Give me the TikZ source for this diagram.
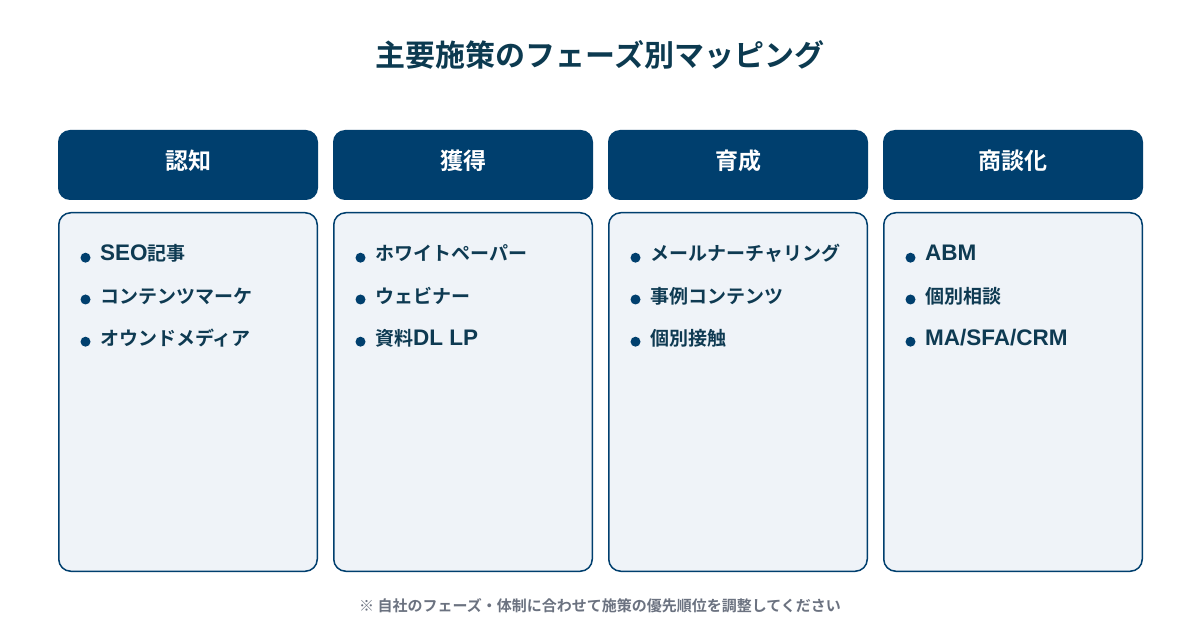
\documentclass[tikz,border=0pt]{standalone}
\usepackage{fontspec}
\setmainfont{Noto Sans CJK JP}[BoldFont={* Bold}]
\newfontfamily\jpb{Noto Sans CJK JP Bold}
\newfontfamily\latb{Liberation Sans Bold}
\newcommand{\lat}[1]{{\latb\fontsize{22.5}{26}\selectfont #1}}
\definecolor{navy}{HTML}{003F6E}
\definecolor{titlec}{HTML}{0C3A50}
\definecolor{bodyfill}{HTML}{EFF3F8}
\definecolor{itemc}{HTML}{0E3A52}
\definecolor{notec}{HTML}{6B7280}
\begin{document}
\begin{tikzpicture}[x=1pt,y=-1pt,
  headbox/.style={fill=navy,rounded corners=12pt,draw=none},
  bodybox/.style={fill=bodyfill,draw=navy,line width=1.5pt,rounded corners=12pt},
  headtxt/.style={text=white,font=\jpb\fontsize{23}{27}\selectfont,anchor=center,inner sep=0pt},
  itemtxt/.style={text=itemc,font=\jpb\fontsize{19}{23}\selectfont,anchor=base west,inner sep=0pt},
  dot/.style={circle,fill=navy,minimum size=10pt,inner sep=0pt}]
\useasboundingbox (0,0) rectangle (1200,620);
\fill[white] (0,0) rectangle (1200,620);
\node[text=titlec,font=\jpb\fontsize{30}{35}\selectfont,inner sep=0pt] (title) at (600,55) {主要施策のフェーズ別マッピング};
\foreach \i/\h/\a/\b/\c in {0/認知/{\lat{SEO}記事}/コンテンツマーケ/オウンドメディア,
                             1/獲得/ホワイトペーパー/ウェビナー/{資料\lat{DL LP}},
                             2/育成/メールナーチャリング/事例コンテンツ/個別接触,
                             3/商談化/{\lat{ABM}}/個別相談/{\lat{MA/SFA/CRM}}}{
  \pgfmathsetmacro{\xx}{58+275*\i}
  \path[headbox] (\xx,130) rectangle ++(260,70);
  \node[headtxt] (h\i) at (\xx+130,161) {\h};
  \path[bodybox] (\xx+0.75,212.75) rectangle ++(258.5,358.5);
  \node[dot] (d\i a) at (\xx+27.5,257.7) {};
  \node[dot] (d\i b) at (\xx+27.5,299.5) {};
  \node[dot] (d\i c) at (\xx+27.5,341.7) {};
  \node[itemtxt] (t\i a) at (\xx+42,261) {\a};
  \node[itemtxt] (t\i b) at (\xx+42,303.5) {\b};
  \node[itemtxt] (t\i c) at (\xx+42,346) {\c};
}
\node[text=notec,font=\jpb\fontsize{15}{18}\selectfont,inner sep=0pt] (note) at (600,606) {※ 自社のフェーズ・体制に合わせて施策の優先順位を調整してください};
\end{tikzpicture}
\end{document}
